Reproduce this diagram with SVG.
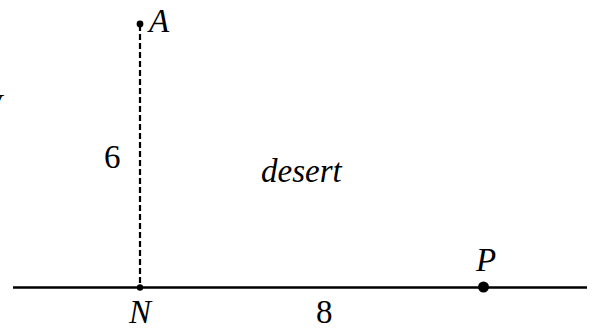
<svg xmlns="http://www.w3.org/2000/svg" width="601" height="329" viewBox="0 0 601 329">
<style>
.t{font-family:"Liberation Serif","Times New Roman",serif;font-size:33px;fill:#000}
.i{font-style:italic}
</style>
<rect width="601" height="329" fill="#fff"/>
<g id="connectors">
<line x1="13" y1="287.5" x2="587" y2="287.5" stroke="#000" stroke-width="2.4"/>
<line x1="140" y1="25" x2="140" y2="287" stroke="#000" stroke-width="2.2" stroke-dasharray="6,3"/>
</g>
<g id="nodeA"><circle cx="140" cy="24" r="3.4" fill="#000"/><text class="t i" x="149" y="32">A</text></g>
<g id="nodeN"><circle cx="140" cy="287.5" r="3.2" fill="#000"/><text class="t i" x="129" y="323">N</text></g>
<g id="nodeP"><circle cx="483.5" cy="287" r="5.5" fill="#000"/><text class="t i" x="476" y="271">P</text></g>
<g id="labels">
<text class="t" x="104" y="168">6</text>
<text class="t" x="316" y="323">8</text>
<text class="t i" x="261" y="182">desert</text>
<text class="t i" x="-26" y="117">W</text>
</g>
</svg>
